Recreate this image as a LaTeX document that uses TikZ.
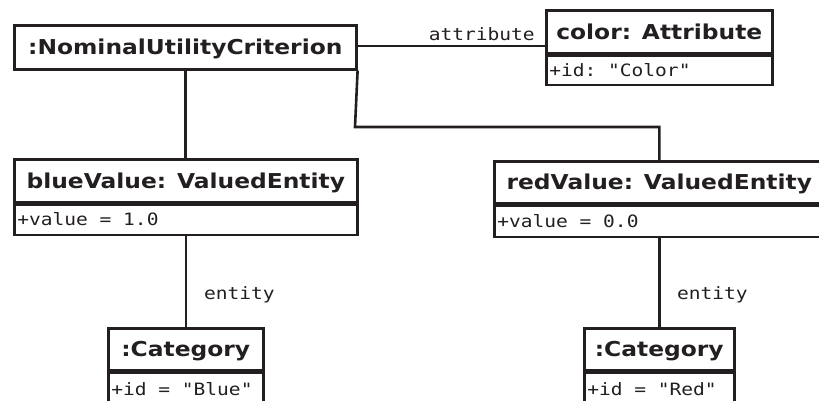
\documentclass[tikz,border=0pt]{standalone}
\usepackage{fontspec}
\newfontfamily\titlef{DejaVu Sans}[FakeStretch=1.14]
\newfontfamily\monof{DejaVu Sans Mono}[FakeStretch=1.15]
\newcommand\monosize{\monof\fontsize{17}{20}\selectfont}
\newcommand\msp{\hspace*{11.77pt}}
\definecolor{ink}{HTML}{231F20}
\tikzset{
  titlebox/.style={draw=ink, line width=2.6pt, inner sep=0pt, anchor=north west,
    minimum height=43pt, text=ink,
    font=\titlef\bfseries\fontsize{20.5}{24}\selectfont, text height=20pt, text depth=5pt},
  attrbox/.style={draw=ink, line width=2.6pt, inner xsep=3pt, inner ysep=0pt, anchor=north,
    minimum height=30pt, text width=#1, text=ink,
    font=\monosize, text height=16pt, text depth=4pt},
  conn/.style={draw=ink, line width=2.6pt},
  lbl/.style={text=ink, inner sep=0pt, font=\monosize}
}
\begin{document}
\begin{tikzpicture}[x=1pt, y=-1pt]
\useasboundingbox (0,0) rectangle (819,400);
\clip (0,0) rectangle (819,400);
% classes
\node[titlebox, minimum width=342pt, minimum height=44pt] (nuc) at (13,24) {:NominalUtilityCriterion};

\node[titlebox, minimum width=226pt] (colt) at (545,9) {color: Attribute};
\node[attrbox=220pt, minimum height=29pt] (cola) at (colt.south) {+id:\msp"Color"};

\node[titlebox, minimum width=343pt] (bluet) at (13,158) {blueValue: ValuedEntity};
\node[attrbox=337pt] (bluea) at (bluet.south) {+value\msp=\msp1.0};

\node[titlebox, minimum width=330pt, minimum height=42pt] (redt) at (493,160) {redValue: ValuedEntity};
\node[attrbox=324pt, minimum height=31pt] (reda) at (redt.south) {+value\msp=\msp0.0};

\node[titlebox, minimum width=155pt, minimum height=42pt] (bluect) at (107,327) {:Category};
\node[attrbox=149pt, minimum height=33pt] (bluec) at (bluect.south) {+id\msp=\msp"Blue"};

\node[titlebox, minimum width=150pt, minimum height=42pt] (redct) at (583,327) {:Category};
\node[attrbox=144pt, minimum height=33pt] (redc) at (redct.south) {+id\msp=\msp"Red"};

% connectors
\draw[conn] ([yshift=1.5pt]nuc.east) -- ([yshift=1.5pt]nuc.east -| colt.west)
  node[pos=1, lbl, anchor=base east, xshift=-9pt, yshift=5.5pt] {attribute};
\draw[conn] (nuc.south) -- (nuc.south |- bluet.north);
\coordinate (bend) at (355,127);
\draw[conn] (nuc.south east) -- (bend) -| (redt.north);
\draw[conn] (bluect.north |- bluea.south) -- (bluect.north)
  node[midway, lbl, anchor=base west, xshift=17pt, yshift=-18pt] {entity};
\draw[conn] (redct.north |- reda.south) -- (redct.north)
  node[midway, lbl, anchor=base west, xshift=16.5pt, yshift=-17pt] {entity};
\end{tikzpicture}
\end{document}
